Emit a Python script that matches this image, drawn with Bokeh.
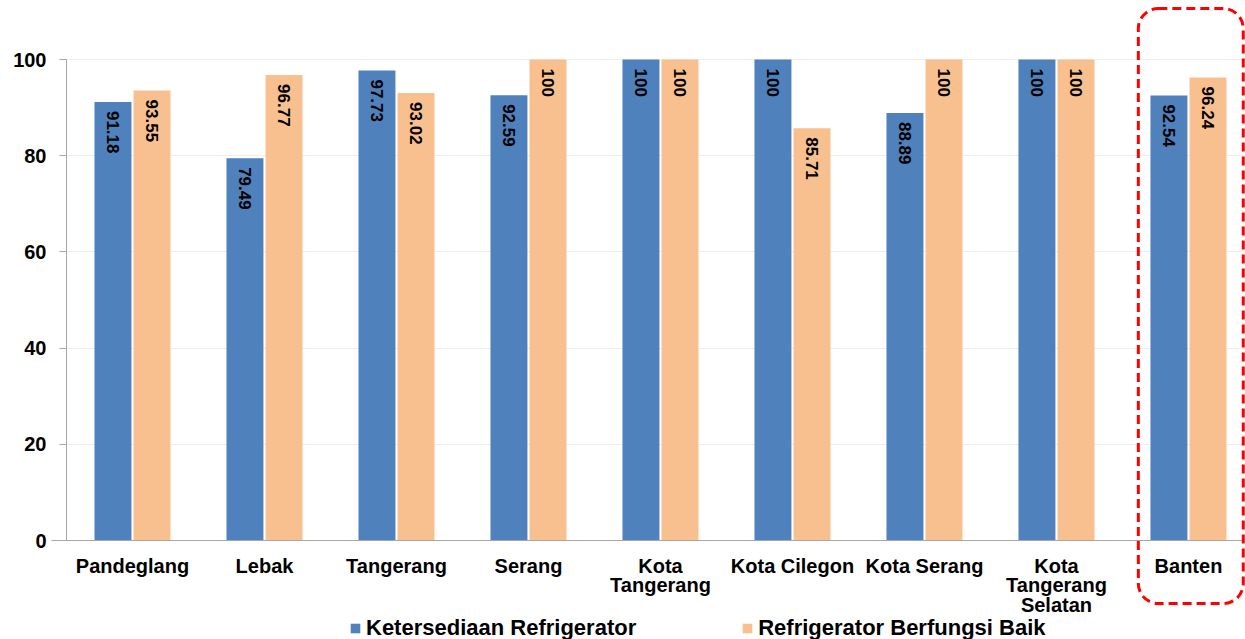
from bokeh.plotting import figure
from bokeh.models import (ColumnDataSource, Range1d, FixedTicker, Legend, LegendItem,
                          BoxAnnotation)
from bokeh.core.properties import value
from bokeh.embed import file_html
from bokeh.resources import INLINE

# Data
regions = ["Pandeglang", "Lebak", "Tangerang", "Serang", "Kota\nTangerang",
           "Kota Cilegon", "Kota Serang", "Kota\nTangerang\nSelatan", "Banten"]
ketersediaan = [91.18, 79.49, 97.73, 92.59, 100, 100, 88.89, 100, 92.54]
berfungsi = [93.55, 96.77, 93.02, 100, 100, 85.71, 100, 100, 96.24]
y_ticks = [0, 20, 40, 60, 80, 100]
series_names = ["Ketersediaan Refrigerator", "Refrigerator Berfungsi Baik"]

BLUE = "#4F81BD"
ORANGE = "#F9C08F"
AXIS_GREY = "#A6A6A6"
FONT = "Liberation Sans"

centers = [i + 0.5 for i in range(len(regions))]
offset = 0.148
bar_w = 0.28
x_end = 8.932

src_a = ColumnDataSource(dict(
    x=[c - offset for c in centers], top=ketersediaan,
    label=[f"{v:g}" for v in ketersediaan]))
src_b = ColumnDataSource(dict(
    x=[c + offset for c in centers], top=berfungsi,
    label=[f"{v:g}" for v in berfungsi]))

# The frame fills the whole canvas; the axes are pinned at x=0 / y=0 so the
# labels, legend and highlight box can sit around the bars without clipping.
p = figure(width=1245, height=639, output_backend="svg", toolbar_location=None,
           x_range=Range1d(-0.5, x_end), y_range=Range1d(-20.58, 112.27),
           min_border=0)
p.outline_line_color = None
p.background_fill_color = "white"
p.border_fill_color = "white"

r_a = p.vbar(x="x", top="top", width=bar_w, bottom=0, source=src_a,
             fill_color=BLUE, line_color=None)
r_b = p.vbar(x="x", top="top", width=bar_w, bottom=0, source=src_b,
             fill_color=ORANGE, line_color=None)

# value labels, rotated to read top-to-bottom just inside the bar tops
for src in (src_a, src_b):
    p.text(x="x", y="top", text="label", source=src, angle=-1.5708,
           text_align="left", text_baseline="middle", y_offset=9,
           text_font=value(FONT), text_font_style="bold",
           text_font_size="17px", text_color="black")

# y axis
p.yaxis.fixed_location = 0
p.yaxis.bounds = (0, 100)
p.yaxis.ticker = FixedTicker(ticks=y_ticks)
p.yaxis.axis_line_color = AXIS_GREY
p.yaxis.major_tick_line_color = AXIS_GREY
p.yaxis.major_tick_out = 7
p.yaxis.major_tick_in = 0
p.yaxis.minor_tick_line_color = None
p.yaxis.major_label_standoff = 13
p.yaxis.major_label_text_font = FONT
p.yaxis.major_label_text_font_style = "bold"
p.yaxis.major_label_text_font_size = "20px"
p.yaxis.major_label_text_color = "black"

# x axis
p.xaxis.fixed_location = 0
p.xaxis.bounds = (-0.11, x_end)
p.xaxis.ticker = FixedTicker(ticks=centers)
p.xaxis.major_label_overrides = {c: r for c, r in zip(centers, regions)}
p.xaxis.axis_line_color = AXIS_GREY
p.xaxis.major_tick_line_color = None
p.xaxis.minor_tick_line_color = None
p.xaxis.major_tick_out = 0
p.xaxis.major_label_standoff = 14
p.xaxis.major_label_text_font = FONT
p.xaxis.major_label_text_font_style = "bold"
p.xaxis.major_label_text_font_size = "20px"
p.xaxis.major_label_text_line_height = 0.9
p.xaxis.major_label_text_color = "black"

p.xgrid.grid_line_color = None
p.ygrid.ticker = FixedTicker(ticks=y_ticks[1:])
p.ygrid.cross_bounds = (0, x_end)
p.ygrid.grid_line_color = "#EDEDED"

# dashed highlight around the province total
hl = centers[-1]
box = BoxAnnotation(left=hl - 0.38, right=hl + 0.415, top=110.6, bottom=-13.1,
                    fill_color=None, fill_alpha=0, line_color="#FF0000",
                    line_alpha=1, line_width=3, line_dash="9 5",
                    border_radius=20)
p.add_layout(box)

legend = Legend(items=[LegendItem(label=series_names[0], renderers=[r_a]),
                       LegendItem(label=series_names[1], renderers=[r_b])],
                orientation="horizontal", location=(349, -2),
                padding=0, margin=0, spacing=105, label_standoff=5,
                glyph_width=12, glyph_height=12,
                label_text_font=FONT, label_text_font_style="bold",
                label_text_font_size="22px", label_text_color="black",
                border_line_color=None, background_fill_alpha=0)
p.add_layout(legend, "center")

open("out.html", "w").write(file_html(p, INLINE))
